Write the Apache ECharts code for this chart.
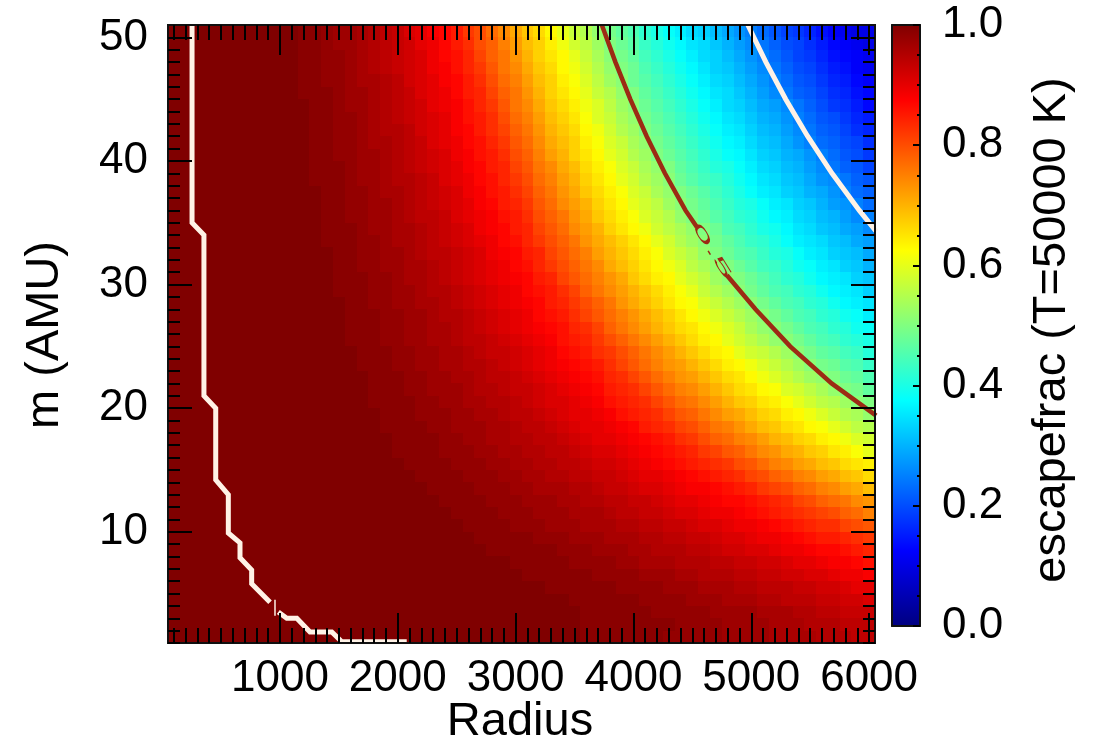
<!DOCTYPE html>
<html>
<head>
<meta charset="utf-8">
<title>escapefrac (T=50000 K)</title>
<script src="https://cdn.jsdelivr.net/npm/echarts@6/dist/echarts.min.js"></script>
<style>
  html, body { margin: 0; padding: 0; background: #ffffff; }
  #chart { width: 1093px; height: 745px; }
</style>
</head>
<body>
<div id="chart"></div>
<script>
// Radius grid (cell centres) and mass grid (lower edge of each row)
const radii = [100,200,300,400,500,600,700,800,900,1000,1100,1200,1300,1400,1500,1600,1700,1800,1900,2000,
  2100,2200,2300,2400,2500,2600,2700,2800,2900,3000,3100,3200,3300,3400,3500,3600,3700,3800,3900,4000,
  4100,4200,4300,4400,4500,4600,4700,4800,4900,5000,5100,5200,5300,5400,5500,5600,5700,5800,5900,6000];
const masses = [1,2,3,4,5,6,7,8,9,10,11,12,13,14,15,16,17,18,19,20,21,22,23,24,25,
  26,27,28,29,30,31,32,33,34,35,36,37,38,39,40,41,42,43,44,45,46,47,48,49,50];

// Escape fraction in percent: one row per mass (first row m = 1), one column per radius
const escapePct = [
  [100,100,100,100,100,100,100,100,100,100,100,100,100,100,100,100,100,100,100,100,100,100,100,100,100,100,100,100,100,100,100,100,100,100,100,99,99,99,99,99,99,99,98,98,98,98,98,97,97,97,97,96,96,96,96,95,95,95,94,94],
  [100,100,100,100,100,100,100,100,100,100,100,100,100,100,100,100,100,100,100,100,100,100,100,100,100,100,100,100,100,100,100,100,100,100,100,99,99,99,99,99,99,99,99,98,98,98,98,97,97,97,97,96,96,96,95,95,95,94,94,94],
  [100,100,100,100,100,100,100,100,100,100,100,100,100,100,100,100,100,100,100,100,100,100,100,100,100,100,100,100,100,100,100,100,100,100,100,99,99,99,99,99,99,98,98,98,98,98,97,97,97,97,96,96,96,95,95,94,94,93,93,93],
  [100,100,100,100,100,100,100,100,100,100,100,100,100,100,100,100,100,100,100,100,100,100,100,100,100,100,100,100,100,100,100,100,100,100,99,99,99,99,99,99,98,98,98,98,97,97,97,96,96,96,95,95,94,94,94,93,93,92,92,91],
  [100,100,100,100,100,100,100,100,100,100,100,100,100,100,100,100,100,100,100,100,100,100,100,100,100,100,100,100,100,100,100,100,99,99,99,99,99,99,98,98,98,98,97,97,97,96,96,96,95,95,94,94,94,93,93,92,92,91,90,90],
  [100,100,100,100,100,100,100,100,100,100,100,100,100,100,100,100,100,100,100,100,100,100,100,100,100,100,100,100,100,100,99,99,99,99,99,99,98,98,98,98,97,97,97,96,96,95,95,95,94,94,93,93,92,92,91,91,90,89,89,88],
  [100,100,100,100,100,100,100,100,100,100,100,100,100,100,100,100,100,100,100,100,100,100,100,100,100,100,100,100,100,99,99,99,99,99,98,98,98,98,97,97,96,96,96,95,95,95,94,94,93,93,92,92,91,90,90,89,88,88,87,86],
  [100,100,100,100,100,100,100,100,100,100,100,100,100,100,100,100,100,100,100,100,100,100,100,100,100,100,100,99,99,99,99,99,99,98,98,98,97,97,97,96,96,95,95,95,94,94,93,92,92,91,91,90,89,89,88,87,87,86,85,84],
  [100,100,100,100,100,100,100,100,100,100,100,100,100,100,100,100,100,100,100,100,100,100,100,100,100,100,99,99,99,99,99,98,98,98,97,97,97,96,96,96,95,95,94,94,93,93,92,91,91,90,89,89,88,87,86,85,85,84,83,82],
  [100,100,100,100,100,100,100,100,100,100,100,100,100,100,100,100,100,100,100,100,100,100,100,100,100,99,99,99,99,98,98,98,97,97,97,96,96,96,95,95,94,94,93,93,92,91,91,90,89,89,88,87,86,85,84,83,83,81,80,79],
  [100,100,100,100,100,100,100,100,100,100,100,100,100,100,100,100,100,100,100,100,100,100,100,100,99,99,99,99,98,98,98,97,97,97,96,96,96,95,94,94,93,93,92,91,91,90,89,89,88,87,86,85,84,83,82,81,80,78,77,75],
  [100,100,100,100,100,100,100,100,100,100,100,100,100,100,100,100,100,100,100,100,100,100,100,99,99,99,99,98,98,98,97,97,97,96,96,95,95,94,94,93,93,92,91,90,90,89,88,87,87,86,85,84,83,81,80,78,77,76,74,73],
  [100,100,100,100,100,100,100,100,100,100,100,100,100,100,100,100,100,100,100,100,100,100,99,99,99,99,98,98,98,97,97,96,96,96,95,95,94,93,93,92,91,91,90,89,88,88,87,86,85,84,82,81,80,78,77,75,74,72,71,69],
  [100,100,100,100,100,100,100,100,100,100,100,100,100,100,100,100,100,100,100,100,100,99,99,99,99,98,98,98,97,97,96,96,95,95,94,94,93,93,92,91,90,90,89,88,87,86,85,84,83,81,80,78,77,75,74,72,71,69,68,66],
  [100,100,100,100,100,100,100,100,100,100,100,100,100,100,100,100,100,100,100,100,99,99,99,99,98,98,98,97,97,96,96,95,95,94,94,93,92,92,91,90,89,88,87,86,85,84,83,82,80,79,77,75,74,72,71,69,68,66,65,64],
  [100,100,100,100,100,100,100,100,100,100,100,100,100,100,100,100,100,100,100,99,99,99,99,98,98,98,97,97,96,96,95,95,94,94,93,92,91,91,90,89,88,87,86,85,84,82,81,79,78,76,74,73,71,70,68,67,65,64,62,60],
  [100,100,100,100,100,100,100,100,100,100,100,100,100,100,100,100,100,100,100,99,99,99,99,98,98,97,97,96,96,95,95,94,94,93,92,91,90,90,89,88,87,86,85,83,82,80,78,77,75,74,72,70,69,67,66,64,63,61,59,58],
  [100,100,100,100,100,100,100,100,100,100,100,100,100,100,100,100,100,100,99,99,99,99,98,98,97,97,97,96,96,95,94,94,93,92,91,90,90,89,88,87,85,84,83,81,80,78,76,75,73,71,69,68,66,65,63,62,60,58,56,55],
  [100,100,100,100,100,100,100,100,100,100,100,100,100,100,100,100,100,100,99,99,99,98,98,98,97,97,96,96,95,94,94,93,92,91,90,90,89,88,86,85,84,83,81,79,78,76,74,72,71,69,67,66,64,63,61,59,57,55,54,52],
  [100,100,100,100,100,100,100,100,100,100,100,100,100,100,100,100,100,99,99,99,99,98,98,97,97,96,96,95,95,94,93,92,91,91,90,89,88,86,85,84,83,81,79,77,76,74,72,70,68,67,65,64,62,60,58,56,55,53,51,50],
  [100,100,100,100,100,100,100,100,100,100,100,100,100,100,100,100,100,99,99,99,98,98,97,97,97,96,95,95,94,93,93,92,91,90,89,88,87,85,84,83,81,79,77,75,74,72,70,68,66,65,63,62,59,58,56,54,52,50,49,47],
  [100,100,100,100,100,100,100,100,100,100,100,100,100,100,100,100,100,99,99,99,98,98,97,97,96,96,95,94,94,93,92,91,90,89,88,87,86,84,83,81,79,77,75,73,72,70,68,66,65,63,61,59,57,55,53,52,50,48,47,45],
  [100,100,100,100,100,100,100,100,100,100,100,100,100,100,100,100,99,99,99,98,98,97,97,96,96,95,95,94,93,92,91,90,89,88,87,86,85,83,81,79,77,75,73,72,70,68,66,64,63,61,59,57,55,53,51,49,48,46,45,43],
  [100,100,100,100,100,100,100,100,100,100,100,100,100,100,100,100,99,99,99,98,98,97,97,96,96,95,94,93,93,92,91,90,89,87,86,85,83,82,80,78,76,74,72,70,68,66,64,63,60,58,57,55,53,51,49,47,46,44,43,41],
  [100,100,100,100,100,100,100,100,100,100,100,100,100,100,100,99,99,99,98,98,97,97,96,96,95,94,94,93,92,91,90,89,88,86,85,84,82,80,78,76,74,72,70,68,66,64,63,60,58,56,54,52,51,49,47,45,44,42,41,40],
  [100,100,100,100,100,100,100,100,100,100,100,100,100,100,100,99,99,99,98,98,97,97,96,96,95,94,93,92,91,90,89,88,87,86,84,83,81,78,76,74,72,70,68,66,65,63,61,59,57,54,52,51,49,47,45,44,42,41,39,38],
  [100,100,100,100,100,100,100,100,100,100,100,100,100,100,100,99,99,99,98,98,97,97,96,95,95,94,93,92,91,90,89,87,86,85,83,81,79,77,75,73,71,69,67,65,63,61,59,57,55,53,51,49,47,45,44,42,41,39,38,36],
  [100,100,100,100,100,100,100,100,100,100,100,100,100,100,100,99,99,98,98,97,97,96,96,95,94,93,92,91,90,89,88,87,85,84,82,80,78,76,73,71,69,67,65,63,62,59,57,55,53,51,49,47,45,44,42,41,39,37,36,35],
  [100,100,100,100,100,100,100,100,100,100,100,100,100,100,99,99,99,98,98,97,97,96,95,95,94,93,92,91,90,89,87,86,85,83,81,78,76,74,72,70,68,66,64,62,60,57,55,53,51,49,47,45,44,42,41,39,37,36,35,33],
  [100,100,100,100,100,100,100,100,100,100,100,100,100,100,99,99,99,98,98,97,96,96,95,94,93,92,91,90,89,88,87,85,84,81,79,77,75,73,71,68,66,64,63,60,58,56,53,51,50,48,46,44,42,41,39,37,36,35,33,32],
  [100,100,100,100,100,100,100,100,100,100,100,100,100,100,99,99,98,98,97,97,96,96,95,94,93,92,91,90,89,87,86,84,82,80,78,76,74,71,69,67,65,63,61,59,56,54,52,50,48,46,44,43,41,39,38,36,35,33,32,30],
  [100,100,100,100,100,100,100,100,100,100,100,100,100,100,99,99,98,98,97,97,96,95,94,94,93,92,91,89,88,87,85,84,81,79,77,75,72,70,68,66,64,62,59,57,55,52,50,48,46,45,43,41,40,38,36,35,33,32,31,29],
  [100,100,100,100,100,100,100,100,100,100,100,100,100,99,99,99,98,98,97,96,96,95,94,93,92,91,90,89,87,86,84,82,80,78,76,73,71,69,67,65,63,60,58,55,53,51,49,47,45,43,42,40,38,36,35,34,32,31,29,28],
  [100,100,100,100,100,100,100,100,100,100,100,100,100,99,99,99,98,97,97,96,96,95,94,93,92,91,89,88,87,85,84,81,79,77,74,72,70,67,65,63,61,58,56,54,52,50,48,45,44,42,40,39,37,35,34,32,31,29,28,26],
  [100,100,100,100,100,100,100,100,100,100,100,100,100,99,99,98,98,97,97,96,95,94,94,93,91,90,89,88,86,85,83,80,78,76,73,71,68,66,64,62,59,57,55,52,50,48,46,44,42,41,39,37,36,34,33,31,30,28,26,25],
  [100,100,100,100,100,100,100,100,100,100,100,100,100,99,99,98,98,97,97,96,95,94,93,92,91,90,88,87,85,84,82,79,77,74,72,70,67,65,63,60,58,56,53,51,49,47,45,43,41,40,38,36,35,33,32,30,28,27,25,23],
  [100,100,100,100,100,100,100,100,100,100,100,100,100,99,99,98,98,97,96,96,95,94,93,92,91,89,88,86,85,83,81,78,76,73,71,68,66,64,62,59,57,54,52,50,48,46,44,42,40,38,36,35,33,32,30,29,27,25,23,22],
  [100,100,100,100,100,100,100,100,100,100,100,100,99,99,99,98,97,97,96,95,95,94,93,91,90,89,87,86,84,82,80,77,75,72,70,67,65,63,60,58,55,53,51,48,46,44,43,41,39,37,35,34,32,31,29,27,26,24,22,21],
  [100,100,100,100,100,100,100,100,100,100,100,100,99,99,99,98,97,97,96,95,94,93,92,91,90,88,87,85,84,81,79,76,74,71,69,66,64,62,59,57,54,52,50,47,45,43,41,40,38,36,34,33,31,30,28,26,24,22,21,19],
  [100,100,100,100,100,100,100,100,100,100,100,100,99,99,98,98,97,97,96,95,94,93,92,91,89,88,86,85,83,80,78,75,72,70,67,65,63,60,58,55,53,50,48,46,44,42,40,38,37,35,33,32,30,29,27,25,23,21,20,18],
  [100,100,100,100,100,100,100,100,100,100,100,100,99,99,98,98,97,96,96,95,94,93,91,90,89,87,86,84,82,79,77,74,71,69,67,64,62,59,57,54,52,49,47,45,43,41,39,37,36,34,32,31,29,27,25,23,22,20,19,17],
  [100,100,100,100,100,100,100,100,100,100,100,100,99,99,98,98,97,96,95,95,94,92,91,90,88,87,85,83,81,78,76,73,70,68,66,63,61,58,55,53,50,48,46,44,42,40,38,36,35,33,31,30,28,26,24,22,21,19,17,16],
  [100,100,100,100,100,100,100,100,100,100,100,100,99,99,98,98,97,96,95,94,93,92,91,90,88,86,85,83,80,77,75,72,69,67,65,62,59,57,54,52,49,47,45,43,41,39,37,35,34,32,30,29,27,25,23,21,20,18,16,15],
  [100,100,100,100,100,100,100,100,100,100,100,100,99,99,98,97,97,96,95,94,93,92,90,89,88,86,84,82,79,76,74,71,68,66,64,61,59,56,53,51,48,46,44,42,40,38,36,34,33,31,29,28,26,24,22,20,18,17,15,13],
  [100,100,100,100,100,100,100,100,100,100,100,99,99,99,98,97,97,96,95,94,93,91,90,89,87,85,84,81,78,76,73,70,67,65,63,60,57,55,52,50,47,45,43,41,39,37,35,34,32,30,28,26,24,22,21,19,17,16,14,13],
  [100,100,100,100,100,100,100,100,100,100,100,99,99,98,98,97,96,96,95,94,92,91,90,88,87,85,83,80,77,75,72,69,67,64,62,59,56,53,51,48,46,44,42,40,38,36,34,33,31,29,27,25,23,21,20,18,16,15,13,12],
  [100,100,100,100,100,100,100,100,100,100,100,99,99,98,98,97,96,95,94,93,92,91,89,88,86,84,82,79,76,74,71,68,66,63,61,58,55,52,50,48,45,43,41,39,37,35,33,32,30,28,26,24,22,20,19,17,15,14,12,11],
  [100,100,100,100,100,100,100,100,100,100,100,99,99,98,98,97,96,95,94,93,92,91,89,87,86,84,81,78,76,73,70,67,65,63,60,57,54,51,49,47,44,42,40,38,36,34,33,31,29,27,25,23,21,19,18,16,14,13,12,11],
  [100,100,100,100,100,100,100,100,100,100,100,99,99,98,97,97,96,95,94,93,92,90,89,87,85,83,80,78,75,72,69,67,64,61,58,56,53,50,48,46,43,41,39,37,35,34,32,30,28,26,24,22,20,19,17,15,13,12,11,10],
  [100,100,100,100,100,100,100,100,100,100,100,99,99,98,97,97,96,95,94,93,91,90,88,87,85,82,80,77,74,71,68,66,63,60,57,55,52,49,47,45,42,40,38,36,34,33,31,29,27,25,23,21,19,18,16,14,12,11,10,10]
];

// Axis ticks
const xMajorTicks = [1000, 2000, 3000, 4000, 5000, 6000];
const yMajorTicks = [10, 20, 30, 40, 50];
const barRange = [0, 1];
const barInterval = 0.2;

// Contour paths, [radius, m]
const contourLevel = 0.5;
const innerContourA = [[254,51],[254,35.0],[355,34.0],[355,21.0],[455,20.0],[455,14.2],[562,13.0],[562,9.9],[661,9.1],[661,7.9],[760,6.9],[760,5.8],[916,4.3]];
const innerContourB = [[986,3.5],[1058,3.0],[1143,3.0],[1255,1.9],[1440,1.9],[1525,1.1],[2076,1.1]];
const innerContourStub = [[958,4.5],[958,3.2]];
const halfContourA = [[3732,51],[3847,48],[3973,45],[4112,42],[4267,39],[4442,36],[4538,34.65]];
const halfContourB = [[4793,30.75],[5036,28],[5330,25],[5682,22],[6060,19.4]];
const outerContour = [[4971,51],[5124,48],[5292,45],[5478,42],[5685,39],[5917,36],[6060,34.3]];
// Gap in the 0.5 contour that carries its label: [r0, m0, r1, m1]
const halfLabelGap = [[4538, 34.65, 4793, 30.75]];

escapePct.forEach(function (row, j) {
  if (row.length !== radii.length) console.error('row ' + masses[j] + ' has ' + row.length + ' values');
});

const jetColors = ['#000080', '#0000ff', '#0080ff', '#00ffff', '#80ff80', '#ffff00', '#ff8000', '#ff0000', '#800000'];
const FONT = "'Liberation Sans', Helvetica, Arial, sans-serif";
const INK = '#000000';
const FRAME = { color: '#111111', width: 2 };
const WHITE_LINE = '#fff2e6';
const BROWN_LINE = '#9c2b14';
const AXIS_Z = 20;

const halfStepR = (radii[1] - radii[0]) / 2;
const stepM = masses[1] - masses[0];
const xMin = radii[0] - halfStepR;
const xMax = radii[radii.length - 1] + halfStepR;
const yMin = masses[0];
const yMax = masses[masses.length - 1] + stepM;

const cells = [];
masses.forEach(function (m, j) {
  radii.forEach(function (r, i) {
    cells.push([r, m, escapePct[j][i] / 100]);
  });
});

function tickAxis(position, ticks, len, withLabels, isX, labelOpts) {
  const ax = {
    type: 'value', gridIndex: 0, position: position, z: AXIS_Z,
    min: isX ? xMin : yMin, max: isX ? xMax : yMax,
    axisLine: { show: true, onZero: false, lineStyle: FRAME },
    axisTick: { show: true, inside: true, length: len, customValues: ticks, lineStyle: { color: INK, width: 2 } },
    axisLabel: { show: false },
    splitLine: { show: false }
  };
  if (withLabels) {
    ax.axisLabel = Object.assign({
      show: true, customValues: ticks, color: INK, fontSize: 44, fontFamily: FONT,
      hideOverlap: false, formatter: function (v) { return String(Math.round(v)); }
    }, labelOpts);
  }
  return ax;
}

function frameAxis(position, extra) {
  return Object.assign({
    type: 'value', gridIndex: 1, position: position, z: AXIS_Z, min: barRange[0], max: barRange[1],
    axisLine: { show: true, onZero: false, lineStyle: FRAME }, axisTick: { show: false },
    axisLabel: { show: false }, splitLine: { show: false }
  }, extra || {});
}

function lineSeries(points, color, width) {
  return {
    type: 'line', xAxisIndex: 0, yAxisIndex: 0, data: points, symbol: 'none', showSymbol: false,
    silent: true, clip: true, z: 5, animation: false,
    lineStyle: { color: color, width: width, cap: 'butt', join: 'miter' }
  };
}

const chart = echarts.init(document.getElementById('chart'), null, { renderer: 'canvas' });

const option = {
  backgroundColor: '#ffffff',
  animation: false,
  grid: [
    { left: 168, top: 25, width: 707, height: 618, outerBoundsMode: 'none', containLabel: false },
    { left: 892, top: 25, width: 28, height: 601, outerBoundsMode: 'none', containLabel: false }
  ],
  visualMap: {
    type: 'continuous', show: false, min: 0, max: 1, dimension: 2, seriesIndex: 0,
    inRange: { color: jetColors }
  },
  xAxis: [
    tickAxis('bottom', xMajorTicks, 30, true, true, { margin: 14 }),
    tickAxis('bottom', radii, 15, false, true),
    tickAxis('top', xMajorTicks, 30, false, true),
    tickAxis('top', radii, 15, false, true),
    frameAxis('bottom'),
    frameAxis('top')
  ],
  yAxis: [
    tickAxis('left', yMajorTicks, 24, true, false, { margin: 20 }),
    tickAxis('left', masses, 12, false, false),
    tickAxis('right', yMajorTicks, 24, false, false),
    tickAxis('right', masses, 12, false, false),
    frameAxis('right', {
      interval: barInterval,
      axisTick: { show: true, inside: true, length: 7, lineStyle: { color: INK, width: 2 } },
      minorTick: { show: true, splitNumber: 4, length: 3, lineStyle: { color: INK, width: 2 } },
      axisLabel: { show: true, color: INK, fontSize: 44, fontFamily: FONT, margin: 22,
        formatter: function (v) { return v.toFixed(1); } }
    }),
    frameAxis('left')
  ],
  series: [
    {
      type: 'custom', name: 'escapefrac', xAxisIndex: 0, yAxisIndex: 0, data: cells,
      clip: true, z: 1, silent: true, progressive: 0, animation: false,
      encode: { x: 0, y: 1 },
      renderItem: function (params, api) {
        const r = api.value(0), m = api.value(1);
        const a = api.coord([r - halfStepR, m + stepM]);
        const b = api.coord([r + halfStepR, m]);
        const x0 = Math.round(a[0]), x1 = Math.round(b[0]);
        const y0 = Math.round(a[1]), y1 = Math.round(b[1]);
        return {
          type: 'rect',
          shape: { x: x0, y: y0, width: x1 - x0, height: y1 - y0 },
          style: { fill: api.visual('color'), stroke: null }
        };
      }
    },
    {
      type: 'custom', name: 'colorbar', xAxisIndex: 4, yAxisIndex: 4, data: [[barRange[0], barRange[0], barRange[1]]],
      silent: true, animation: false, z: 1,
      renderItem: function (params, api) {
        const a = api.coord([barRange[0], api.value(2)]);
        const b = api.coord([barRange[1], api.value(1)]);
        const stops = jetColors.map(function (c, k) { return { offset: k / (jetColors.length - 1), color: c }; });
        return {
          type: 'rect',
          shape: { x: a[0], y: a[1], width: b[0] - a[0], height: b[1] - a[1] },
          style: { fill: new echarts.graphic.LinearGradient(0, 1, 0, 0, stops) }
        };
      }
    },
    lineSeries(innerContourA, WHITE_LINE, 5),
    lineSeries(innerContourB, WHITE_LINE, 5),
    lineSeries(innerContourStub, WHITE_LINE, 1.5),
    lineSeries(outerContour, WHITE_LINE, 5),
    lineSeries(halfContourA, BROWN_LINE, 4.5),
    lineSeries(halfContourB, BROWN_LINE, 4.5),
    {
      type: 'custom', name: 'contour label', xAxisIndex: 0, yAxisIndex: 0, data: halfLabelGap,
      silent: true, animation: false, z: 6, encode: { x: [0, 2], y: [1, 3] },
      renderItem: function (params, api) {
        const a = api.coord([api.value(0), api.value(1)]);
        const b = api.coord([api.value(2), api.value(3)]);
        const ang = Math.atan2(b[1] - a[1], b[0] - a[0]);
        return {
          type: 'text',
          x: (a[0] + b[0]) / 2, y: (a[1] + b[1]) / 2,
          rotation: -ang, scaleX: 1, scaleY: 0.3,
          style: {
            text: contourLevel.toFixed(1), fill: BROWN_LINE, fontSize: 46, fontFamily: FONT,
            align: 'center', verticalAlign: 'middle', textAlign: 'center', textVerticalAlign: 'middle'
          }
        };
      }
    }
  ],
  graphic: [
    { type: 'text', x: 520, y: 722, silent: true, z: 30,
      style: { text: 'Radius', fill: INK, fontSize: 47, fontFamily: FONT,
        align: 'center', verticalAlign: 'middle', textAlign: 'center', textVerticalAlign: 'middle' } },
    { type: 'text', x: 45, y: 335, rotation: Math.PI / 2, silent: true, z: 30,
      style: { text: 'm (AMU)', fill: INK, fontSize: 47, fontFamily: FONT,
        align: 'center', verticalAlign: 'middle', textAlign: 'center', textVerticalAlign: 'middle' } },
    { type: 'text', x: 1052, y: 330, rotation: Math.PI / 2, silent: true, z: 30,
      style: { text: 'escapefrac (T=50000 K)', fill: INK, fontSize: 47, fontFamily: FONT,
        align: 'center', verticalAlign: 'middle', textAlign: 'center', textVerticalAlign: 'middle' } }
  ]
};

chart.setOption(option);
</script>
</body>
</html>
